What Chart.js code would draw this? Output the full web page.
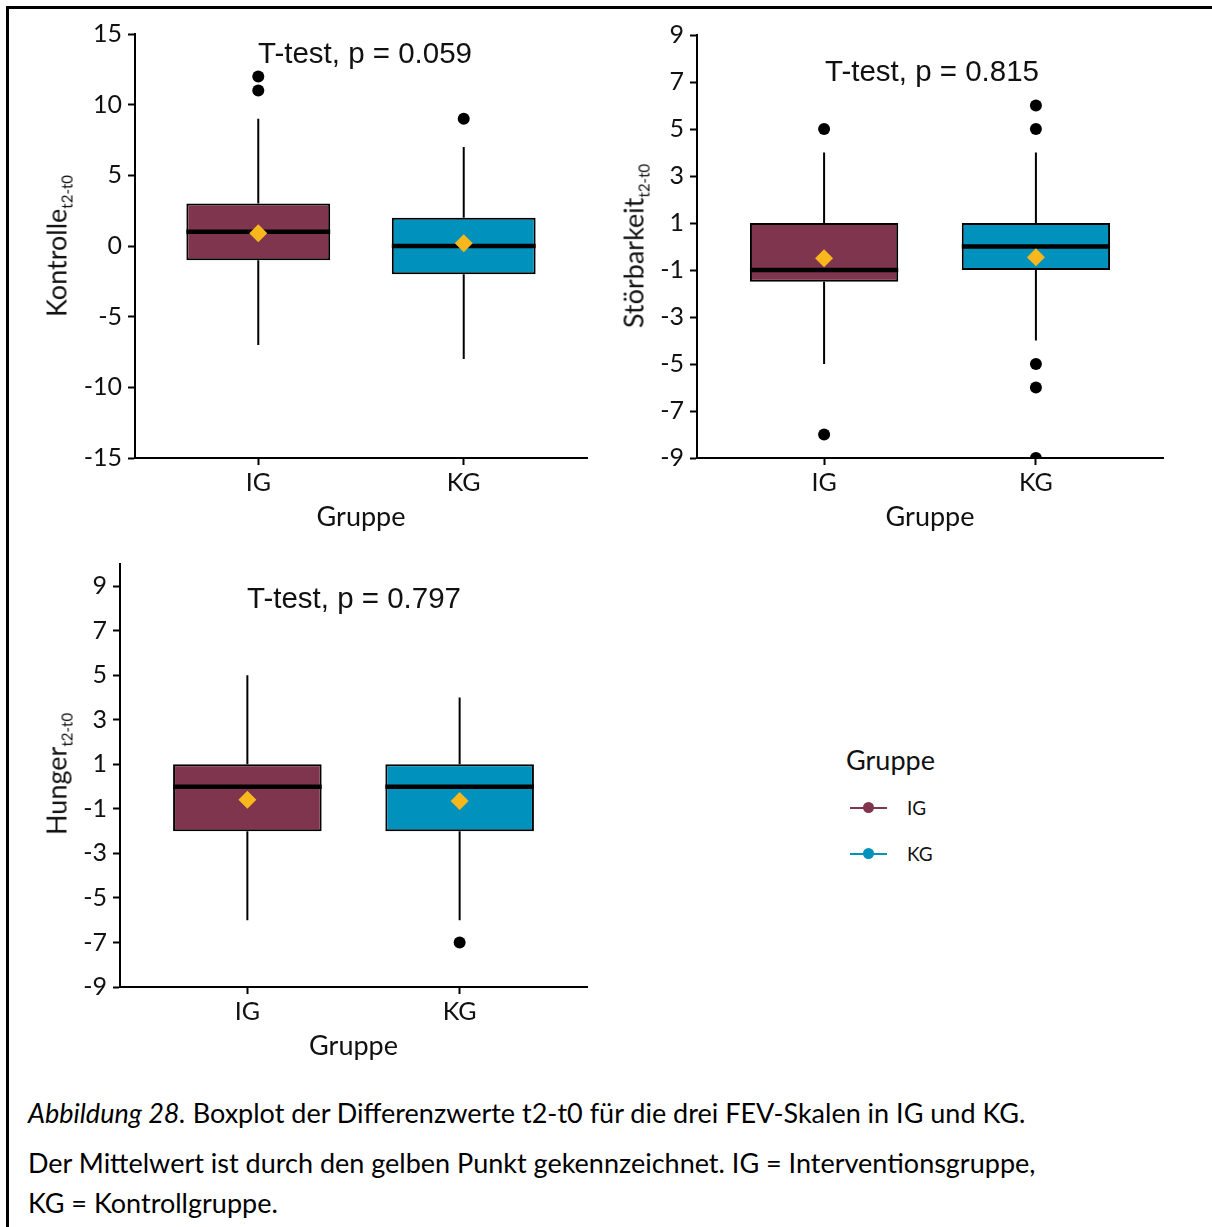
<!DOCTYPE html>
<html lang="de">
<head>
<meta charset="utf-8">
<title>Boxplot der Differenzwerte t2-t0</title>
<script src="https://cdn.jsdelivr.net/npm/chart.js@4/dist/chart.umd.min.js"></script>
<style>
  html, body { margin: 0; padding: 0; background: #fff; }
  #figure { position: relative; width: 1212px; height: 1227px; overflow: hidden;
            font-family: Lato, "Open Sans", sans-serif; color: #111; }
  #frame { position: absolute; left: 6px; top: 6px; width: 1300px; height: 1300px;
           border-top: 3px solid #000; border-left: 3px solid #000; }
  canvas { position: absolute; }
  .ytitle { position: absolute; transform: translate(-50%, -50%) rotate(-90deg);
            white-space: nowrap; font-size: 27px; line-height: 1; }
  .ytitle span { font-size: 15px; position: relative; top: 6px; }
  .ttest { position: absolute; transform: translate(-50%, -50%); white-space: nowrap;
           font-family: "Liberation Sans", Arial, sans-serif; font-size: 29.5px; line-height: 1; color: #111; }
  .legend-title { position: absolute; left: 846px; top: 759px; transform: translateY(-50%);
                  font-size: 27px; line-height: 1; }
  .legend-item { position: absolute; left: 850px; transform: translateY(-50%); height: 24px;
                 font-size: 19px; line-height: 24px; padding-left: 57px; }
  .legend-item i { position: absolute; left: 0; top: 11px; width: 37px; height: 2px; background: var(--c); }
  .legend-item i::after { content: ""; position: absolute; left: 13px; top: -5px; width: 11px; height: 11px;
                          border-radius: 50%; background: var(--c); }
  .caption { position: absolute; left: 28px; transform: translateY(-50%); white-space: nowrap;
             font-size: 27px; line-height: 1; color: #000; }
</style>
</head>
<body>
<div id="figure">
  <div id="frame"></div>

  <canvas id="kontrolle" width="580" height="540" style="left:20px;top:10px"></canvas>
  <canvas id="stoerbarkeit" width="580" height="540" style="left:610px;top:10px"></canvas>
  <canvas id="hunger" width="580" height="537" style="left:20px;top:543px"></canvas>

  <div class="ytitle" style="left:56px;top:246px">Kontrolle<span>t2-t0</span></div>
  <div class="ytitle" style="left:633px;top:246px">Störbarkeit<span>t2-t0</span></div>
  <div class="ytitle" style="left:56px;top:774px">Hunger<span>t2-t0</span></div>

  <div class="ttest" style="left:365px;top:53px">T-test, p = 0.059</div>
  <div class="ttest" style="left:932px;top:71px">T-test, p = 0.815</div>
  <div class="ttest" style="left:354px;top:598px">T-test, p = 0.797</div>

  <div class="legend-title">Gruppe</div>
  <div class="legend-item" style="top:808px;--c:#7F354E"><i></i>IG</div>
  <div class="legend-item" style="top:854px;--c:#0092BC"><i></i>KG</div>

  <div class="caption" style="top:1112px"><em>Abbildung 28.</em> Boxplot der Differenzwerte t2-t0 für die drei FEV-Skalen in IG und KG.</div>
  <div class="caption" style="top:1162px">Der Mittelwert ist durch den gelben Punkt gekennzeichnet. IG = Interventionsgruppe,</div>
  <div class="caption" style="top:1202px">KG = Kontrollgruppe.</div>
</div>

<script>
// Groups on the x axis
const groups = ['IG', 'KG'];
const groupPositions = [1, 2];

// Kontrolle t2-t0
const kontrolleQ1 = [-1, -2];
const kontrolleMedian = [1, 0];
const kontrolleQ3 = [3, 2];
const kontrolleWhiskerLow = [-7, -8];
const kontrolleWhiskerHigh = [9, 7];
const kontrolleMean = [0.9, 0.2];
const kontrolleOutliersIG = [12, 11];
const kontrolleOutliersKG = [9];
const kontrolleTicks = [-15, -10, -5, 0, 5, 10, 15];

// Störbarkeit t2-t0
const stoerQ1 = [-1.5, -1];
const stoerMedian = [-1, 0];
const stoerQ3 = [1, 1];
const stoerWhiskerLow = [-5, -4];
const stoerWhiskerHigh = [4, 4];
const stoerMean = [-0.5, -0.46];
const stoerOutliersIG = [5, -8];
const stoerOutliersKG = [6, 5, -5, -6, -9];
const stoerTicks = [-9, -7, -5, -3, -1, 1, 3, 5, 7, 9];

// Hunger t2-t0
const hungerQ1 = [-2, -2];
const hungerMedian = [0, 0];
const hungerQ3 = [1, 1];
const hungerWhiskerLow = [-6, -6];
const hungerWhiskerHigh = [5, 4];
const hungerMean = [-0.59, -0.65];
const hungerOutliersIG = [];
const hungerOutliersKG = [-7];
const hungerTicks = [-9, -7, -5, -3, -1, 1, 3, 5, 7, 9];

// Styling
const GROUP_COLORS = ['#7F354E', '#0092BC'];
const MEAN_COLOR = '#F8B71C';
const BOX_WIDTH = 0.7;
const TEXT_COLOR = '#111';
const TICK_FONT = { family: 'Lato', size: 25 };

function boxplotChart(id, s, axis) {
  const half = BOX_WIDTH / 2;
  const whiskers = [];
  const medians = [];
  const outliers = [];
  groupPositions.forEach((x, i) => {
    whiskers.push({ x, y: s.q3[i] }, { x, y: s.high[i] }, { x, y: null },
                  { x, y: s.q1[i] }, { x, y: s.low[i] }, { x, y: null });
    medians.push({ x: x - half, y: s.median[i] }, { x: x + half, y: s.median[i] }, { x, y: null });
    s.outliers[i].forEach(v => outliers.push({ x, y: v }));
  });
  const boxes = groupPositions.map((x, i) => ({ x, y: [s.q1[i], s.q3[i]] }));
  const means = groupPositions.map((x, i) => ({ x, y: s.mean[i] }));

  return new Chart(document.getElementById(id), {
    type: 'scatter',
    data: {
      datasets: [
        { type: 'scatter', data: means, order: 0, pointStyle: 'rectRot', pointRadius: 9,
          backgroundColor: MEAN_COLOR, borderColor: MEAN_COLOR, borderWidth: 0 },
        { type: 'scatter', data: outliers, order: 1, pointStyle: 'circle', pointRadius: 6,
          backgroundColor: '#000', borderColor: '#000', borderWidth: 0, clip: 0 },
        { type: 'scatter', data: medians, order: 2, showLine: true, spanGaps: false, pointRadius: 0,
          borderColor: '#000', borderWidth: 4.5 },
        { type: 'bar', data: boxes, order: 3, backgroundColor: GROUP_COLORS, borderColor: '#000',
          borderWidth: 2, borderSkipped: false, barPercentage: BOX_WIDTH, categoryPercentage: 1 },
        { type: 'scatter', data: whiskers, order: 4, showLine: true, spanGaps: false, pointRadius: 0,
          borderColor: '#000', borderWidth: 2 }
      ]
    },
    options: {
      responsive: false,
      animation: false,
      devicePixelRatio: 1,
      events: [],
      layout: { padding: { top: axis.padTop, right: axis.padRight, left: 0, bottom: 0 } },
      plugins: { legend: { display: false }, tooltip: { enabled: false } },
      scales: {
        x: {
          type: 'linear', min: 0.4, max: 2.6, offset: false,
          afterBuildTicks: sc => { sc.ticks = groupPositions.map(v => ({ value: v })); },
          afterFit: sc => { sc.height = axis.xAxisHeight; },
          border: { display: true, color: '#000', width: 2 },
          grid: { offset: false, drawOnChartArea: false, drawTicks: true, tickLength: 7, tickWidth: 2, tickColor: '#000' },
          ticks: { autoSkip: false, maxRotation: 0, padding: 3, font: TICK_FONT, color: TEXT_COLOR,
                   callback: v => groups[groupPositions.indexOf(v)] },
          title: { display: true, text: 'Gruppe', font: { family: 'Lato', size: 27 }, color: TEXT_COLOR,
                   padding: { top: 0, bottom: axis.titlePad } }
        },
        y: {
          type: 'linear', min: axis.min, max: axis.max,
          afterBuildTicks: sc => { sc.ticks = axis.ticks.map(v => ({ value: v })); },
          afterFit: sc => { sc.width = axis.yAxisWidth; },
          border: { display: true, color: '#000', width: 2 },
          grid: { drawOnChartArea: false, drawTicks: true, tickLength: 7, tickWidth: 2, tickColor: '#000' },
          ticks: { autoSkip: false, padding: 6, font: TICK_FONT, color: TEXT_COLOR,
                   callback: v => String(v) }
        }
      }
    }
  });
}

boxplotChart('kontrolle', {
  q1: kontrolleQ1, median: kontrolleMedian, q3: kontrolleQ3,
  low: kontrolleWhiskerLow, high: kontrolleWhiskerHigh, mean: kontrolleMean,
  outliers: [kontrolleOutliersIG, kontrolleOutliersKG]
}, { min: -15, max: 15, ticks: kontrolleTicks, padTop: 24, padRight: 13, yAxisWidth: 115, xAxisHeight: 92, titlePad: 17 });

boxplotChart('stoerbarkeit', {
  q1: stoerQ1, median: stoerMedian, q3: stoerQ3,
  low: stoerWhiskerLow, high: stoerWhiskerHigh, mean: stoerMean,
  outliers: [stoerOutliersIG, stoerOutliersKG]
}, { min: -9, max: 9, ticks: stoerTicks, padTop: 25, padRight: 27, yAxisWidth: 87, xAxisHeight: 92, titlePad: 17 });

boxplotChart('hunger', {
  q1: hungerQ1, median: hungerMedian, q3: hungerQ3,
  low: hungerWhiskerLow, high: hungerWhiskerHigh, mean: hungerMean,
  outliers: [hungerOutliersIG, hungerOutliersKG]
}, { min: -9, max: 10, ticks: hungerTicks, padTop: 20, padRight: 13, yAxisWidth: 100, xAxisHeight: 93, titlePad: 18 });
</script>
</body>
</html>
